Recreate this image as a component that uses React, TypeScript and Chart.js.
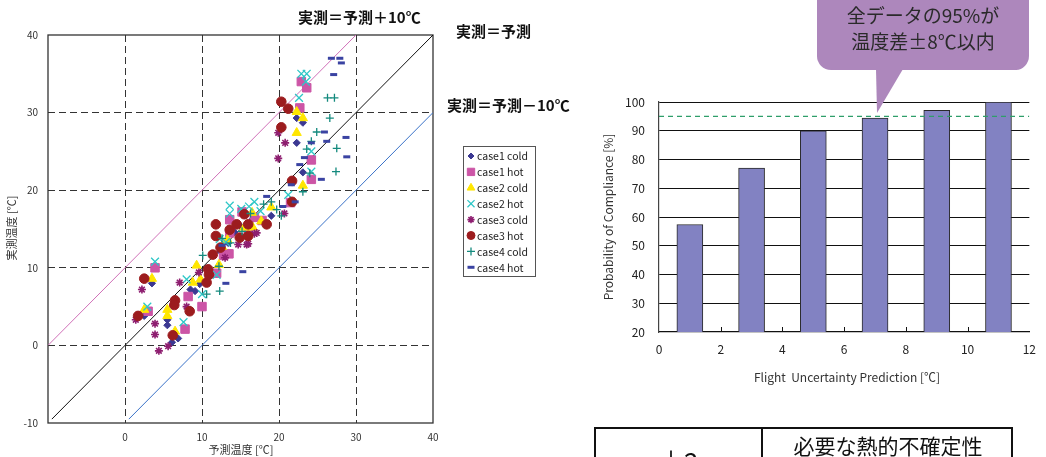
import React, { useEffect, useRef } from 'react';
import { Chart, registerables } from 'chart.js';
import { drawPoint } from 'chart.js/helpers';

Chart.register(...registerables);

const FONT = "'Noto Sans CJK JP', 'Noto Sans', sans-serif";

// ---------- Left chart data (予測温度 x, 実測温度 y) ----------
type P = [number, number];

const seriesNames = ['case1 cold', 'case1 hot', 'case2 cold', 'case2 hot', 'case3 cold', 'case3 hot', 'case4 cold', 'case4 hot'];

const case1Cold: P[] = [[3.5, 8.0], [2.5, 3.8], [5.5, 3.3], [5.5, 2.6], [6.9, 0.9], [6.1, 0.4], [8.5, 7.2], [9.1, 7.0], [9.7, 7.9], [12.4, 12.1], [13.4, 13.2], [14.2, 14.6], [15.0, 15.4], [15.8, 15.3], [16.6, 16.3], [19.0, 16.7], [22.3, 29.3], [23.1, 28.7], [22.3, 26.1], [23.1, 22.3]];
const case1Hot: P[] = [[3.9, 10.0], [3.0, 4.4], [7.8, 2.1], [10.0, 5.0], [8.2, 6.3], [11.9, 9.3], [12.8, 11.6], [13.5, 11.8], [13.6, 16.2], [13.6, 14.5], [16.0, 14.5], [16.8, 16.5], [17.8, 16.1], [15.2, 17.2], [21.5, 18.4], [24.2, 21.4], [24.2, 23.9], [22.7, 30.6], [22.9, 34.0], [23.6, 33.2]];
const case2Cold: P[] = [[3.5, 8.6], [2.5, 4.6], [5.5, 4.6], [5.5, 3.8], [6.5, 1.8], [8.8, 8.1], [9.3, 10.3], [9.8, 8.5], [12.2, 10.4], [12.6, 12.7], [13.3, 13.6], [15.5, 15.2], [16.5, 17.1], [17.7, 16.0], [16.6, 15.2], [19.0, 17.8], [22.3, 30.1], [23.1, 29.3], [22.3, 27.4], [23.1, 20.6]];
const case2Hot: P[] = [[3.9, 10.8], [2.9, 5.0], [7.6, 3.0], [8.0, 8.5], [10.0, 6.6], [11.9, 9.1], [12.3, 13.7], [13.1, 13.3], [13.6, 18.0], [13.6, 17.0], [15.1, 17.6], [16.1, 17.9], [16.8, 18.5], [17.6, 17.3], [21.2, 19.4], [24.2, 25.0], [24.2, 22.4], [22.6, 31.9], [22.9, 35.0], [23.6, 35.0], [23.5, 34.0]];
const case3Cold: P[] = [[2.2, 7.2], [1.4, 3.3], [3.9, 2.8], [3.9, 1.4], [4.4, -0.7], [5.6, -0.1], [8.0, 5.0], [7.1, 8.1], [9.6, 9.4], [13.0, 11.3], [14.7, 13.0], [15.8, 13.0], [16.8, 14.4], [17.1, 14.5], [16.0, 13.1], [19.9, 27.4], [20.8, 26.1], [19.9, 24.1], [20.7, 17.0]];
const case3Hot: P[] = [[2.5, 8.6], [1.7, 3.8], [6.5, 5.8], [6.4, 5.2], [6.2, 1.3], [8.4, 4.4], [10.6, 8.1], [10.8, 9.8], [10.9, 9.1], [11.4, 11.7], [11.8, 15.6], [11.8, 14.1], [13.6, 14.9], [14.5, 15.6], [14.9, 13.9], [15.5, 16.9], [16.0, 14.1], [16.0, 15.6], [18.4, 15.6], [20.3, 31.4], [21.2, 30.5], [20.3, 28.1], [21.7, 21.2], [21.7, 18.5], [12.4, 12.6]];
const case4Cold: P[] = [[10.1, 11.6], [10.6, 6.6], [12.3, 7.0], [12.2, 10.2], [12.6, 13.8], [13.7, 13.2], [15.2, 14.7], [16.3, 17.0], [18.0, 18.2], [19.0, 18.5], [19.7, 17.5], [20.3, 16.7], [23.6, 25.3], [24.9, 27.5], [26.3, 31.9], [27.2, 31.9], [26.6, 29.3], [27.5, 25.4], [27.4, 22.4], [24.0, 22.2], [23.1, 19.8], [24.2, 26.3]];
const case4Hot: P[] = [[13.1, 8.0], [15.3, 9.5], [12.6, 12.9], [18.4, 19.2], [20.5, 17.9], [22.1, 18.5], [21.6, 20.7], [22.7, 23.3], [23.3, 24.2], [25.5, 21.4], [24.2, 26.1], [25.9, 27.5], [26.2, 26.3], [28.7, 26.8], [28.8, 24.3], [26.8, 37.0], [27.9, 37.0], [28.1, 36.4], [27.1, 34.9]];

// reference lines (end points)
const linePlus10: P[] = [[-10, 0], [30, 40]];
const lineEqual: P[] = [[-9.5, -9.5], [40, 40]];
const lineMinus10: P[] = [[0.5, -9.5], [40, 30]];

const leftTicks = [-10, 0, 10, 20, 30, 40];

// ---------- Right chart data ----------
const uncertainty = [1, 3, 5, 7, 9, 11];
const compliance = [57.4, 77.0, 90.0, 94.4, 97.1, 100];
const thresholdValue = 95;
const thresholdX = [0, 12];

// ---------- styles ----------
const seriesStyles = [
  { style: 'rectRot', color: '#3B3892', radius: 3.6, bw: 1, lr: 3 },
  { style: 'rect', color: '#CC55A6', radius: 6, bw: 1, lr: 5.2 },
  { style: 'triangle', color: '#FFE600', radius: 5.3, bw: 1, lr: 4.5 },
  { style: 'crossRot', color: '#2EC7C7', radius: 5.5, bw: 1.3, lr: 5 },
  { style: 'star', color: '#8E1E70', radius: 4, bw: 1.6, lr: 3.6 },
  { style: 'circle', color: '#9C1C1E', radius: 4.8, bw: 1, lr: 4 },
  { style: 'cross', color: '#148A7E', radius: 4, bw: 1.3, lr: 4 },
  { style: 'line', color: '#3A43A2', radius: 3.5, bw: 3, lr: 3.5 },
];

const leftPlugin = {
  id: 'leftDecor',
  beforeDatasetsDraw(chart: any) {
    const { ctx, chartArea: a } = chart;
    ctx.save();
    ctx.strokeStyle = '#333';
    ctx.lineWidth = 1.3;
    ctx.strokeRect(a.left, a.top, a.right - a.left, a.bottom - a.top);
    ctx.restore();
  },
  afterDraw(chart: any) {
    const { ctx } = chart;
    ctx.save();
    ctx.fillStyle = '#111';
    ctx.textBaseline = 'middle';
    ctx.textAlign = 'left';
    ctx.font = `bold 15px ${FONT}`;
    ctx.fillText('実測＝予測＋10℃', 298, 17);
    ctx.fillText('実測＝予測', 456, 31);
    ctx.fillText('実測＝予測－10℃', 447, 105);

    ctx.fillStyle = '#333';
    ctx.font = `11px ${FONT}`;
    ctx.textAlign = 'center';
    ctx.fillText('予測温度 [℃]', 241, 450);
    ctx.save();
    ctx.translate(12, 228);
    ctx.rotate(-Math.PI / 2);
    ctx.fillText('実測温度 [℃]', 0, 0);
    ctx.restore();

    // legend box
    ctx.strokeStyle = '#555';
    ctx.lineWidth = 1;
    ctx.strokeRect(463.5, 146.5, 72, 130);
    ctx.font = `10.5px ${FONT}`;
    ctx.textAlign = 'left';
    seriesNames.forEach((name, i) => {
      const y = 156 + i * 15.9;
      const st = seriesStyles[i];
      ctx.fillStyle = st.color;
      ctx.strokeStyle = st.color;
      ctx.lineWidth = st.bw;
      drawPoint(ctx, { pointStyle: st.style, radius: st.lr, borderWidth: st.bw, rotation: 0 }, 471, y);
      ctx.fillStyle = '#222';
      ctx.fillText(name, 477, y + 0.5);
    });
    ctx.restore();
  },
};

function ScatterChart() {
  const ref = useRef<HTMLCanvasElement>(null);
  useEffect(() => {
    const series = [case1Cold, case1Hot, case2Cold, case2Hot, case3Cold, case3Hot, case4Cold, case4Hot];
    const refLines = [
      { pts: linePlus10, color: '#D070B8' },
      { pts: lineEqual, color: '#111111' },
      { pts: lineMinus10, color: '#3A72C8' },
    ];
    const datasets: any[] = [
      ...refLines.map((l) => ({
        type: 'line',
        data: l.pts.map(([x, y]) => ({ x, y })),
        borderColor: l.color,
        borderWidth: 1,
        pointRadius: 0,
        showLine: true,
        fill: false,
        order: 20,
      })),
      ...series.map((pts, i) => ({
        type: 'scatter',
        label: seriesNames[i],
        data: pts.map(([x, y]) => ({ x, y })),
        pointStyle: seriesStyles[i].style,
        pointRadius: seriesStyles[i].radius,
        pointBackgroundColor: seriesStyles[i].color,
        pointBorderColor: seriesStyles[i].color,
        pointBorderWidth: seriesStyles[i].bw,
        order: 10 - i,
      })),
    ];
    const gridColor = (ctx: any) => {
      const v = ctx.tick ? ctx.tick.value : null;
      return v === -10 || v === 40 ? 'rgba(0,0,0,0)' : '#333';
    };
    const chart = new Chart(ref.current as HTMLCanvasElement, {
      type: 'scatter',
      data: { datasets },
      options: {
        animation: false,
        responsive: false,
        layout: { padding: { left: 0, top: 35, right: 152, bottom: 0 } },
        plugins: { legend: { display: false }, tooltip: { enabled: false } },
        scales: {
          x: {
            type: 'linear',
            min: -10,
            max: 40,
            afterBuildTicks: (s: any) => { s.ticks = leftTicks.map((v) => ({ value: v })); },
            ticks: {
              color: '#333',
              font: { size: 10, family: FONT },
              padding: 8,
              callback: (v: any) => (v === -10 ? '' : String(v)),
            },
            grid: { drawTicks: false, color: gridColor, lineWidth: 1 },
            border: { display: false, dash: [7, 4] },
            afterFit: (s: any) => { s.height = 34; },
          },
          y: {
            type: 'linear',
            min: -10,
            max: 40,
            afterBuildTicks: (s: any) => { s.ticks = leftTicks.map((v) => ({ value: v })); },
            ticks: { color: '#333', font: { size: 10, family: FONT }, padding: 10 },
            grid: { drawTicks: false, color: gridColor, lineWidth: 1 },
            border: { display: false, dash: [7, 4] },
            afterFit: (s: any) => { s.width = 48; },
          },
        },
      } as any,
      plugins: [leftPlugin],
    });
    return () => chart.destroy();
  }, []);
  return <canvas ref={ref} width={585} height={457} style={{ position: 'absolute', left: 0, top: 0, width: 585, height: 457 }} />;
}

const rightPlugin = {
  id: 'rightDecor',
  afterDraw(chart: any) {
    const { ctx, scales } = chart;
    const xs = scales.x;
    const ys = scales.y;
    ctx.save();
    ctx.fillStyle = '#222';
    ctx.font = `12px ${FONT}`;
    ctx.textBaseline = 'middle';
    ctx.textAlign = 'right';
    ctx.fillText(String(thresholdValue), 655, ys.getPixelForValue(thresholdValue));
    // inner tick marks
    ctx.strokeStyle = '#111';
    ctx.lineWidth = 1;
    [2, 4, 6, 8, 10].forEach((v) => {
      const x = Math.round(xs.getPixelForValue(v)) + 0.5;
      ctx.beginPath();
      ctx.moveTo(x, ys.bottom);
      ctx.lineTo(x, ys.bottom - 5);
      ctx.stroke();
    });
    ctx.textAlign = 'center';
    ctx.fillStyle = '#333';
    ctx.font = `12px ${FONT}`;
    ctx.fillText('Flight  Uncertainty Prediction [℃]', 257, 377);
    ctx.save();
    ctx.translate(18, 217);
    ctx.rotate(-Math.PI / 2);
    ctx.fillText('Probability of Compliance [%]', 0, 0);
    ctx.restore();
    ctx.restore();
  },
};

function BarChart() {
  const ref = useRef<HTMLCanvasElement>(null);
  useEffect(() => {
    const chart = new Chart(ref.current as HTMLCanvasElement, {
      type: 'bar',
      data: {
        datasets: [
          {
            type: 'bar',
            data: uncertainty.map((x, i) => ({ x, y: compliance[i] })),
            backgroundColor: '#8282C2',
            borderColor: '#2a2a2a',
            borderWidth: 1,
            barThickness: 26,
            order: 2,
          },
          {
            type: 'line',
            data: thresholdX.map((x) => ({ x, y: thresholdValue })),
            borderColor: '#2E9E6A',
            borderWidth: 1.3,
            borderDash: [5, 4],
            pointRadius: 0,
            fill: false,
            order: 1,
          },
        ] as any,
      },
      options: {
        animation: false,
        responsive: false,
        layout: { padding: { left: 0, top: 102, right: 9, bottom: 0 } },
        plugins: { legend: { display: false }, tooltip: { enabled: false } },
        scales: {
          x: {
            type: 'linear',
            min: 0,
            max: 12,
            offset: false,
            ticks: { stepSize: 2, color: '#222', font: { size: 12, family: FONT }, padding: 10 },
            grid: {
              drawTicks: false,
              color: (c: any) => (c.tick && c.tick.value === 12 ? '#9a9a9a' : 'rgba(0,0,0,0)'),
            },
            border: { display: true, color: '#111', width: 1.2 },
            afterFit: (s: any) => { s.height = 125; },
          },
          y: {
            type: 'linear',
            min: 20,
            max: 100,
            ticks: { stepSize: 10, color: '#222', font: { size: 12, family: FONT }, padding: 14 },
            grid: {
              drawTicks: false,
              color: (c: any) => (c.tick && c.tick.value === 20 ? 'rgba(0,0,0,0)' : '#111'),
              lineWidth: 1,
            },
            border: { display: true, color: '#444', width: 1.2 },
            afterFit: (s: any) => { s.width = 69; },
          },
        },
      } as any,
      plugins: [rightPlugin],
    });
    return () => chart.destroy();
  }, []);
  return <canvas ref={ref} width={456} height={457} style={{ position: 'absolute', left: 590, top: 0, width: 456, height: 457 }} />;
}

export default function App() {
  return (
    <div style={{ position: 'absolute', left: 0, top: 0, width: 1046, height: 457, overflow: 'hidden', background: '#fff' }}>
      <ScatterChart />
      <BarChart />
      <svg width={1046} height={457} style={{ position: 'absolute', left: 0, top: 0, pointerEvents: 'none' }}>
        <rect x={817} y={-16} width={212} height={86} rx={14} ry={14} fill="#AD87BC" />
        <polygon points="876,69 903,69 877,113" fill="#AD87BC" />
      </svg>
      <div style={{ position: 'absolute', left: 817, top: 2, width: 212, textAlign: 'center', font: `19px ${FONT}`, lineHeight: '26px', color: '#2a2a2a' }}>
        全データの95%が<br />温度差±8℃以内
      </div>
      <div style={{ position: 'absolute', left: 594, top: 427, width: 419, height: 80, border: '2px solid #111', boxSizing: 'border-box' }} />
      <div style={{ position: 'absolute', left: 761, top: 427, width: 2, height: 60, background: '#111' }} />
      <div style={{ position: 'absolute', left: 763, top: 431, width: 250, textAlign: 'center', font: `21px ${FONT}`, lineHeight: '28px', color: '#111' }}>
        必要な熱的不確定性
      </div>
      <div style={{ position: 'absolute', left: 594, top: 444, width: 168, textAlign: 'center', font: `26px ${FONT}`, lineHeight: '34px', color: '#111' }}>
        μ±2σ
      </div>
    </div>
  );
}
